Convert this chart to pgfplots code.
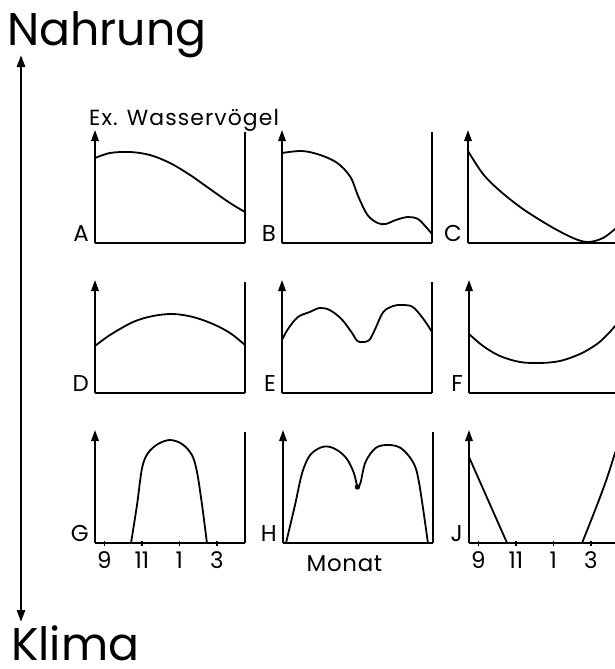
\documentclass[border=0pt]{standalone}
\usepackage{fontspec}
\setmainfont{Poppins}
\usepackage{pgfplots}
\pgfplotsset{compat=1.18}
\usetikzlibrary{arrows.meta}

\newcommand{\panelfont}{\fontsize{23}{23}\selectfont}
\newcommand{\tickfont}{\fontsize{23}{23}\selectfont}

\pgfplotsset{
  panel/.style={
    scale only axis, width=150bp, height=113bp,
    xmin=0, xmax=8, ymin=0, ymax=113,
    axis x line=bottom, axis y line=left,
    axis line style={line width=1.6bp, black},
    x axis line style={-},
    y axis line style={-{Triangle[length=11bp,width=7.5bp]}},
    xtick=\empty, ytick=\empty,
    clip=false, anchor=south west,
  },
  monate/.style={
    xtick={0.5,2.5,4.5,6.5}, xticklabels={9,11,1,3},
    tick align=center, major tick length=5bp,
    tick style={line width=1.3bp, black},
    xticklabel style={font=\tickfont, inner sep=0pt, yshift=-6bp},
  },
  kurve/.style={black, line width=1.8bp, smooth, tension=0.55, no marks},
}

% rechter Rand und Buchstabe des Feldes
\newcommand{\rand}[1]{%
  \draw[line width=1.6bp] (rel axis cs:1,0) -- (rel axis cs:1,0.98);
  \node[anchor=base east, font=\panelfont, inner sep=0pt, xshift=-6bp, yshift=2bp]
    at (rel axis cs:0,0) {#1};
}

\begin{document}
\begin{tikzpicture}
\useasboundingbox (0bp,0bp) rectangle (615bp,-669bp);
\clip (0bp,0bp) rectangle (615bp,-669bp);

\node[anchor=base west, inner sep=0pt, font=\fontsize{46}{46}\selectfont] at (7bp,-45bp) {Nahrung};
\node[anchor=base west, inner sep=0pt, font=\fontsize{46}{46}\selectfont] at (11bp,-660bp) {Klima};
\node[anchor=base west, inner sep=0pt, font=\fontsize{22}{22}\selectfont\addfontfeatures{LetterSpace=5}] at (89bp,-125bp) {Ex. Wasservögel};
\draw[line width=2.6bp, {Triangle[length=12bp,width=8bp]}-{Triangle[length=12bp,width=8bp]}]
  (21bp,-55bp) -- (21bp,-622bp);

%% Reihe 1
\begin{axis}[panel, at={(95bp,-243bp)}]
  \addplot[kurve] coordinates {(0,85) (0.8,90) (1.87,91) (2.93,88) (4.0,80) (5.07,68) (6.13,54) (7.2,40) (8,31)};
  \rand{A}
\end{axis}
\begin{axis}[panel, at={(282bp,-243bp)}]
  \addplot[kurve] coordinates {(0,90) (1.07,92) (2.04,88) (2.95,80) (3.65,66) (4.08,46) (4.56,28) (5.1,20) (5.53,19) (6.07,23) (6.71,26) (7.25,24) (7.68,16) (8,9)};
  \rand{B}
\end{axis}
\begin{axis}[panel, at={(468bp,-243bp)}]
  \addplot[kurve] coordinates {(0,92) (0.8,69) (1.71,52) (2.93,34) (4.37,17) (5.6,5) (6.4,1) (7.2,5) (7.84,14) (8,17)};
  \rand{C}
\end{axis}

%% Reihe 2
\begin{axis}[panel, at={(95bp,-393bp)}]
  \addplot[kurve] coordinates {(0,47) (0.8,58) (2.03,71) (3.09,77) (4.16,79) (5.23,76) (6.29,69) (7.2,60) (8,48)};
  \rand{D}
\end{axis}
\begin{axis}[panel, at={(282bp,-393bp)}]
  \addplot[kurve] coordinates {(0,53) (0.32,64) (0.85,76) (1.48,81) (2.01,85) (2.54,83) (3.17,74) (3.7,61) (4.02,52) (4.34,51) (4.66,53) (4.97,64) (5.4,81) (5.93,87) (6.35,88) (6.88,87) (7.2,82) (7.62,72) (8,61)};
  \rand{E}
\end{axis}
\begin{axis}[panel, at={(469bp,-393bp)}]
  \addplot[kurve] coordinates {(0,59) (0.75,47) (1.65,37) (2.72,31) (3.79,30) (4.85,32) (5.92,39) (6.83,49) (7.41,59) (7.79,67) (8,72)};
  \rand{F}
\end{axis}

%% Reihe 3
\begin{axis}[panel, monate, at={(95bp,-543bp)}]
  \addplot[kurve] coordinates {(1.92,0) (2.24,38) (2.51,75) (2.83,90) (3.36,99) (4.0,103) (4.64,99) (5.17,88) (5.44,71) (5.71,38) (5.97,0)};
  \rand{G}
\end{axis}
\begin{axis}[panel, at={(283bp,-543bp)}]
  \addplot[kurve] coordinates {(0.16,0) (0.64,38) (1.02,70) (1.45,88) (2.09,96) (2.68,95) (3.33,86) (3.76,71) (3.97,55)};
  \addplot[kurve] coordinates {(3.97,55) (4.13,60) (4.4,81) (4.94,95) (5.58,98) (6.28,95) (6.93,81) (7.25,61) (7.73,0)};
  \addplot[only marks, mark=*, mark size=2.4bp, black] coordinates {(3.97,56)};
  \rand{H}
  \node[anchor=base, inner sep=0pt, font=\tickfont\addfontfeatures{LetterSpace=3}] at (rel axis cs:0.41,0) [yshift=-28bp] {Monat};
\end{axis}
\begin{axis}[panel, monate, at={(469bp,-543bp)}]
  \addplot[black, line width=1.8bp, no marks] coordinates {(0,86) (2.03,0)};
  \addplot[kurve] coordinates {(6.03,0) (6.83,38) (7.36,65) (7.79,90) (8,100)};
  \rand{J}
\end{axis}
\end{tikzpicture}
\end{document}
